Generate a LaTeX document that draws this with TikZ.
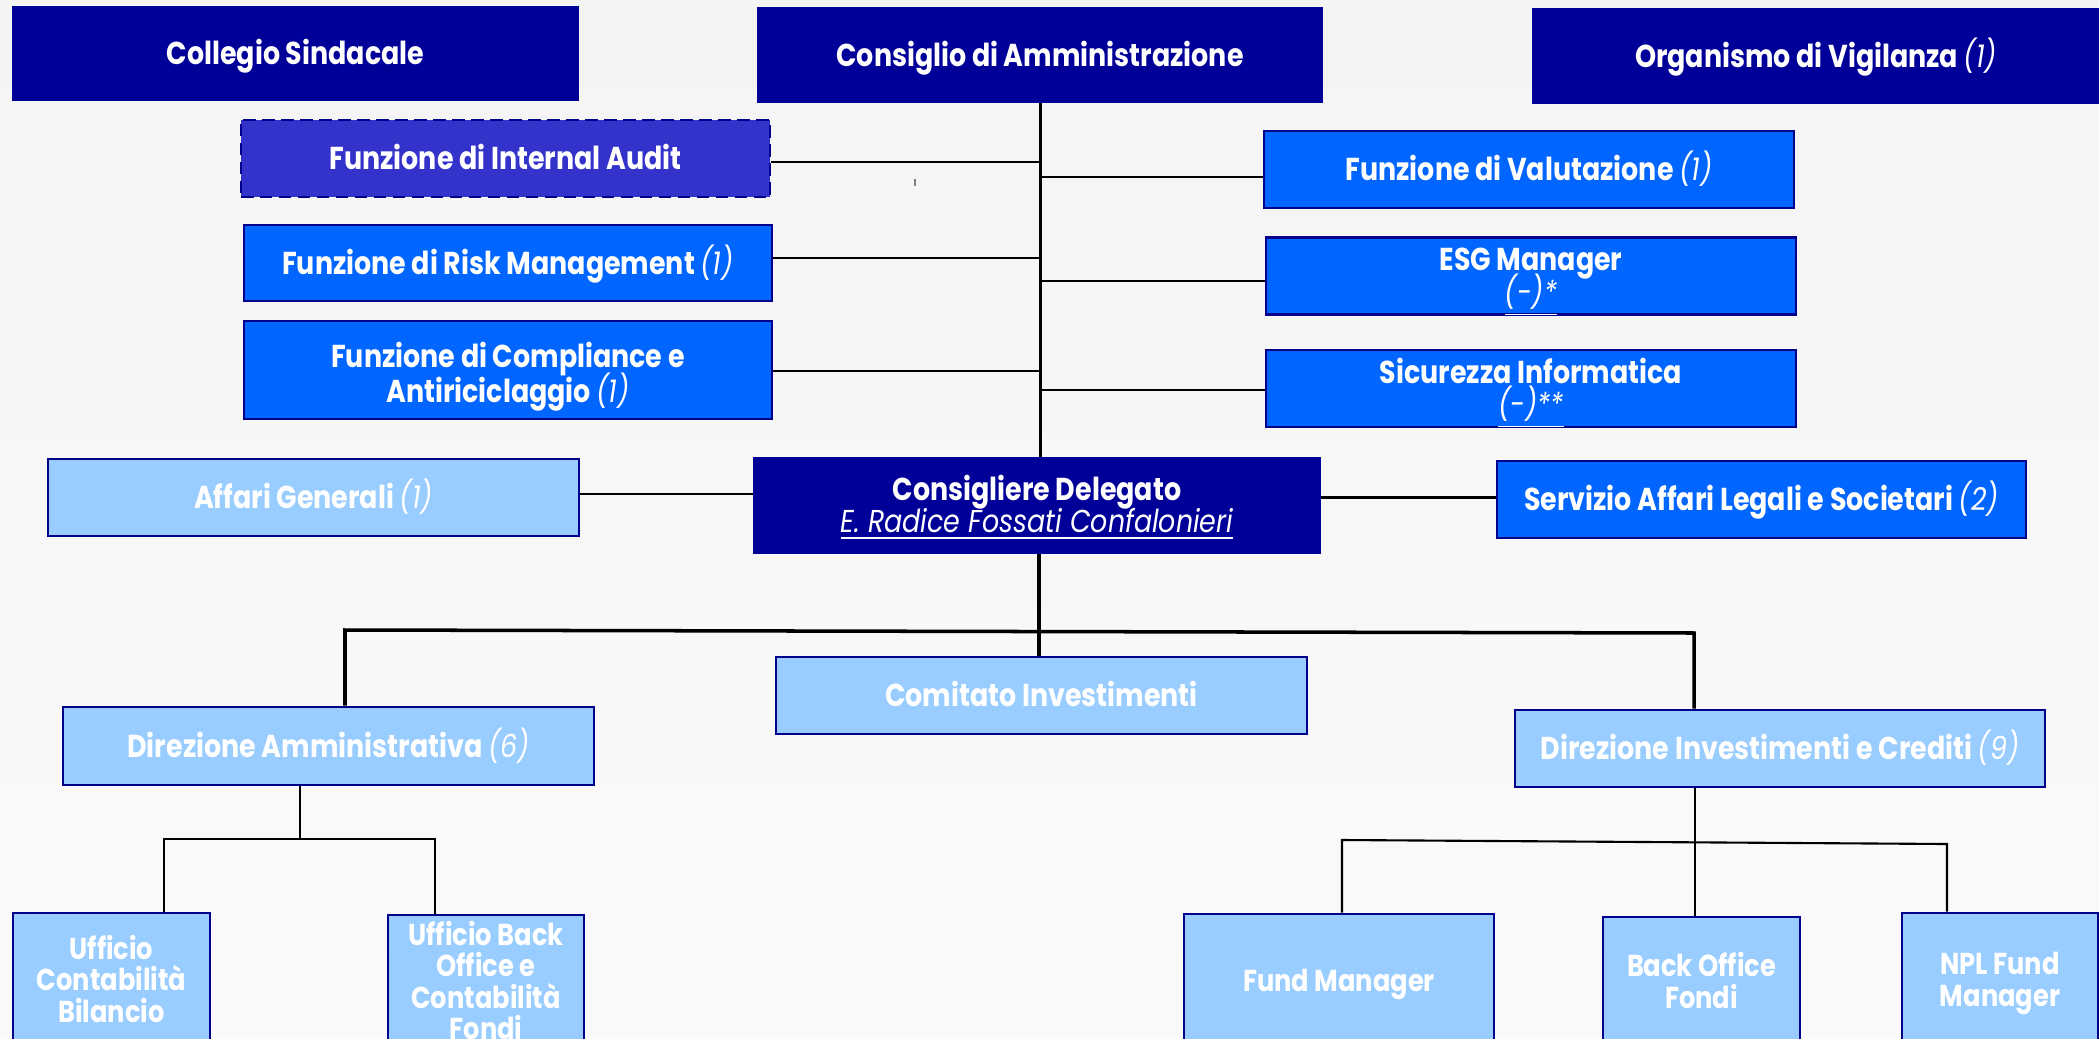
\documentclass[tikz,border=0pt]{standalone}
\usepackage{fontspec}
\setmainfont{Poppins}[FakeStretch=0.85]
\definecolor{navy}{HTML}{000099}
\definecolor{navyline}{HTML}{00008C}
\definecolor{auditfill}{HTML}{3333CC}
\definecolor{midblue}{HTML}{0066FF}
\definecolor{lightblue}{HTML}{99CCFF}
\definecolor{bgtop}{HTML}{F4F4F4}
\definecolor{bgbot}{HTML}{FAFAFC}
\newcommand\nb[1]{{\mdseries\itshape #1}}
\newcommand\ml[1]{\vtop{\lineskiplimit=-\maxdimen\halign{\hfil##\hfil\cr#1\crcr}}}
\tikzset{
  orgbase/.style={rectangle, inner sep=0pt, text=white,
    font=\fontsize{9}{9.3}\selectfont\bfseries, text height=6.3pt, text depth=0pt},
  twolines/.style={text depth=9.3pt},
  widelines/.style={font=\fontsize{9}{9.9}\selectfont\bfseries, text height=8.6pt, text depth=9.9pt},
  orgsmall/.style={font=\fontsize{8.6}{8.95}\selectfont\bfseries, text height=6pt, text depth=0pt},
  sl2/.style={text depth=8.95pt},
  sl3/.style={text depth=17.9pt},
  sl4/.style={text depth=26.85pt},
  orgnavy/.style={orgbase, fill=navy, draw=navy, line width=0.3pt},
  orgmid/.style={orgbase, fill=midblue, draw=navyline, line width=0.75pt},
  orglight/.style={orgbase, fill=lightblue, draw=navyline, line width=0.75pt},
  orgaudit/.style={orgbase, fill=auditfill, draw=navyline, line width=0.6pt,
    dash pattern=on 3.6pt off 1.8pt},
  trunk/.style={line width=0.85pt, black},
  link/.style={line width=0.7pt, black},
  bus/.style={line width=1pt, black},
  twig/.style={line width=0.5pt, black},
}
\begin{document}
\begin{tikzpicture}[x=0.01cm,y=-0.01cm]
\useasboundingbox (0,0) rectangle (2099,1039);
\clip (0,0) rectangle (2099,1039);
\shade[top color=bgtop, bottom color=bgbot] (0,0) rectangle (2099,1039);

% top row
\node[orgnavy, minimum width=5.65cm, minimum height=0.93cm] (cs) at (295.5,53.5) {Collegio Sindacale};
\node[orgnavy, minimum width=5.65cm, minimum height=0.94cm] (cda) at (1040,55) {Consiglio di Amministrazione};
\node[orgnavy, minimum width=5.66cm, minimum height=0.94cm] (odv) at (1816,56) {Organismo di Vigilanza \nb{(1)}};

% left staff
\node[orgaudit, minimum width=5.29cm, minimum height=0.77cm] (audit) at (505.5,158.5) {Funzione di Internal Audit};
\node[orgmid, minimum width=5.28cm, minimum height=0.76cm] (risk) at (508,263) {Funzione di Risk Management \nb{(1)}};
\node[orgmid, widelines, minimum width=5.28cm, minimum height=0.98cm] (comp) at (508,370) {\ml{Funzione di Compliance e\cr Antiriciclaggio \nb{(1)}}};

% right staff
\node[orgmid, minimum width=5.30cm, minimum height=0.77cm] (val) at (1529,169.5) {Funzione di Valutazione \nb{(1)}};
\node[orgmid, twolines, minimum width=5.30cm, minimum height=0.77cm] (esg) at (1531,276) {\ml{ESG Manager\cr \underline{\nb{(-)*}}}};
\node[orgmid, twolines, minimum width=5.30cm, minimum height=0.77cm] (sic) at (1531,388.5) {\ml{Sicurezza Informatica\cr \underline{\nb{(-)**}}}};

% middle row
\node[orglight, minimum width=5.31cm, minimum height=0.77cm] (ag) at (313.5,497.5) {Affari Generali \nb{(1)}};
\node[orgnavy, twolines, minimum width=5.66cm, minimum height=0.95cm] (cd) at (1037,505.5) {\ml{Consigliere Delegato\cr \underline{\nb{E. Radice Fossati Confalonieri}}}};
\node[orgmid, minimum width=5.29cm, minimum height=0.77cm] (sal) at (1761.5,499.5) {Servizio Affari Legali e Societari \nb{(2)}};

% lower
\node[orglight, minimum width=5.31cm, minimum height=0.77cm] (ci) at (1041.5,695.5) {Comitato Investimenti};
\node[orglight, minimum width=5.31cm, minimum height=0.78cm] (da) at (328.5,746) {Direzione Amministrativa \nb{(6)}};
\node[orglight, minimum width=5.30cm, minimum height=0.77cm] (di) at (1780,748.5) {Direzione Investimenti e Crediti \nb{(9)}};

% bottom
\node[orglight, orgsmall, sl3, minimum width=1.97cm, minimum height=1.34cm] (ucb) at (111.5,980) {\ml{Ufficio\cr Contabilità\cr Bilancio}};
\node[orglight, orgsmall, sl4, minimum width=1.96cm, minimum height=1.34cm] (ubo) at (486,982) {\ml{Ufficio Back\cr Office e\cr Contabilità\cr Fondi}};
\node[orglight, orgsmall, minimum width=3.10cm, minimum height=1.34cm] (fm) at (1339,981) {Fund Manager};
\node[orglight, orgsmall, sl2, minimum width=1.97cm, minimum height=1.30cm] (bof) at (1701.5,982) {\ml{Back Office\cr Fondi}};
\node[orglight, orgsmall, sl2, minimum width=1.96cm, minimum height=1.34cm] (npl) at (2000,980) {\ml{NPL Fund\cr Manager}};

% trunk
\draw[trunk] (cda.south) -- (cda.south |- cd.north);
\draw[link] ([yshift=-0.035cm]audit.east) -- ([yshift=-0.035cm]audit.east -| cda.south);
\draw[link] ([yshift=0.05cm]risk.east) -- ([yshift=0.05cm]risk.east -| cda.south);
\draw[link] ([yshift=-0.01cm]comp.east) -- ([yshift=-0.01cm]comp.east -| cda.south);
\draw[link] ([yshift=-0.075cm]val.west) -- ([yshift=-0.075cm]val.west -| cda.south);
\draw[link] ([yshift=-0.05cm]esg.west) -- ([yshift=-0.05cm]esg.west -| cda.south);
\draw[link] ([yshift=-0.015cm]sic.west) -- ([yshift=-0.015cm]sic.west -| cda.south);
\draw[link] ([yshift=0.035cm]ag.east) -- ([yshift=0.035cm]ag.east -| cd.west);
\draw[link] ([yshift=0.02cm]sal.west) -- ([yshift=0.02cm]sal.west -| cd.east);
\draw[line width=0.3pt, gray] (915,179) -- (915,186);

% bus
\coordinate (busL) at (345,630);
\coordinate (busR) at (1694,633);
\draw[bus] (cd.south -| 1039,0) -- (ci.north -| 1039,0);
\draw[bus] (da.north -| busL) -- (busL) -- (busR) -- (busR |- di.north);

% Direzione Amministrativa children
\coordinate (daJ) at (300,839);
\coordinate (daL) at (164,839);
\coordinate (daR) at (435,839);
\draw[twig] (da.south -| daJ) -- (daJ);
\draw[twig] (ucb.north -| daL) -- (daL) -- (daR) -- (ubo.north -| daR);

% Direzione Investimenti children
\coordinate (diL) at (1342,840);
\coordinate (diR) at (1947,844);
\coordinate (diM) at (1695,842);
\draw[twig, line width=0.6pt] (diL |- fm.north) -- (diL) -- (diR) -- (diR |- npl.north);
\draw[twig, line width=0.6pt] (di.south -| diM) -- (bof.north -| diM);
\end{tikzpicture}
\end{document}
